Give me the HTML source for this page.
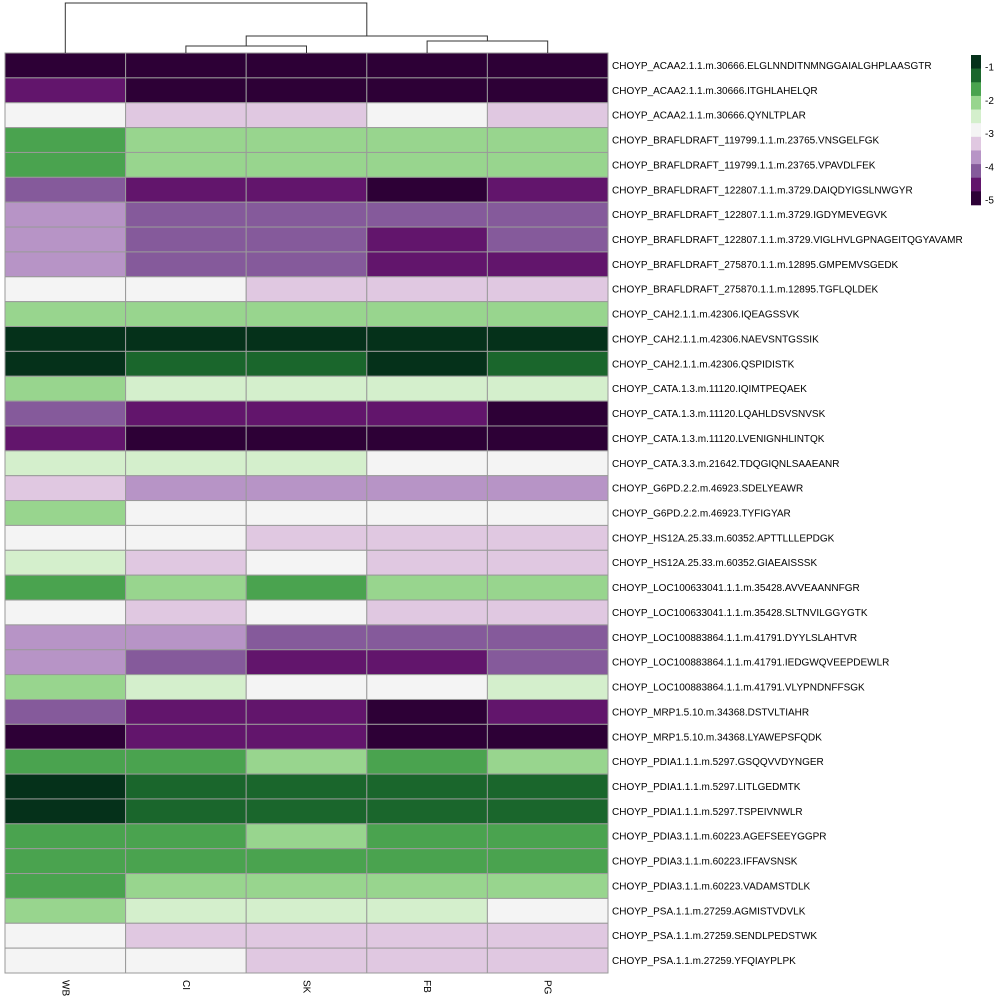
<!DOCTYPE html>
<html><head><meta charset="utf-8"><style>
body{margin:0;background:#fff;}
svg text{font-family:"Liberation Sans",sans-serif;font-size:10px;fill:#000;}
</style></head><body>
<svg id="hm" width="1000" height="1000" xmlns="http://www.w3.org/2000/svg"></svg>
<script>
const columns=["WB","CI","SK","FB","PG"];
const rows=["CHOYP_ACAA2.1.1.m.30666.ELGLNNDITNMNGGAIALGHPLAASGTR","CHOYP_ACAA2.1.1.m.30666.ITGHLAHELQR","CHOYP_ACAA2.1.1.m.30666.QYNLTPLAR","CHOYP_BRAFLDRAFT_119799.1.1.m.23765.VNSGELFGK","CHOYP_BRAFLDRAFT_119799.1.1.m.23765.VPAVDLFEK","CHOYP_BRAFLDRAFT_122807.1.1.m.3729.DAIQDYIGSLNWGYR","CHOYP_BRAFLDRAFT_122807.1.1.m.3729.IGDYMEVEGVK","CHOYP_BRAFLDRAFT_122807.1.1.m.3729.VIGLHVLGPNAGEITQGYAVAMR","CHOYP_BRAFLDRAFT_275870.1.1.m.12895.GMPEMVSGEDK","CHOYP_BRAFLDRAFT_275870.1.1.m.12895.TGFLQLDEK","CHOYP_CAH2.1.1.m.42306.IQEAGSSVK","CHOYP_CAH2.1.1.m.42306.NAEVSNTGSSIK","CHOYP_CAH2.1.1.m.42306.QSPIDISTK","CHOYP_CATA.1.3.m.11120.IQIMTPEQAEK","CHOYP_CATA.1.3.m.11120.LQAHLDSVSNVSK","CHOYP_CATA.1.3.m.11120.LVENIGNHLINTQK","CHOYP_CATA.3.3.m.21642.TDQGIQNLSAAEANR","CHOYP_G6PD.2.2.m.46923.SDELYEAWR","CHOYP_G6PD.2.2.m.46923.TYFIGYAR","CHOYP_HS12A.25.33.m.60352.APTTLLLEPDGK","CHOYP_HS12A.25.33.m.60352.GIAEAISSSK","CHOYP_LOC100633041.1.1.m.35428.AVVEAANNFGR","CHOYP_LOC100633041.1.1.m.35428.SLTNVILGGYGTK","CHOYP_LOC100883864.1.1.m.41791.DYYLSLAHTVR","CHOYP_LOC100883864.1.1.m.41791.IEDGWQVEEPDEWLR","CHOYP_LOC100883864.1.1.m.41791.VLYPNDNFFSGK","CHOYP_MRP1.5.10.m.34368.DSTVLTIAHR","CHOYP_MRP1.5.10.m.34368.LYAWEPSFQDK","CHOYP_PDIA1.1.1.m.5297.GSQQVVDYNGER","CHOYP_PDIA1.1.1.m.5297.LITLGEDMTK","CHOYP_PDIA1.1.1.m.5297.TSPEIVNWLR","CHOYP_PDIA3.1.1.m.60223.AGEFSEEYGGPR","CHOYP_PDIA3.1.1.m.60223.IFFAVSNSK","CHOYP_PDIA3.1.1.m.60223.VADAMSTDLK","CHOYP_PSA.1.1.m.27259.AGMISTVDVLK","CHOYP_PSA.1.1.m.27259.SENDLPEDSTWK","CHOYP_PSA.1.1.m.27259.YFQIAYPLPK"];
const values=[
[-4.8,-4.8,-4.8,-4.8,-4.8],[-4.4,-4.8,-4.8,-4.8,-4.8],[-2.8,-3.2,-3.2,-2.8,-3.2],
[-1.6,-2.0,-2.0,-2.0,-2.0],[-1.6,-2.0,-2.0,-2.0,-2.0],[-4.0,-4.4,-4.4,-4.8,-4.4],
[-3.6,-4.0,-4.0,-4.0,-4.0],[-3.6,-4.0,-4.0,-4.4,-4.0],[-3.6,-4.0,-4.0,-4.4,-4.4],
[-2.8,-2.8,-3.2,-3.2,-3.2],[-2.0,-2.0,-2.0,-2.0,-2.0],[-0.8,-0.8,-0.8,-0.8,-0.8],
[-0.8,-1.2,-1.2,-0.8,-1.2],[-2.0,-2.4,-2.4,-2.4,-2.4],[-4.0,-4.4,-4.4,-4.4,-4.8],
[-4.4,-4.8,-4.8,-4.8,-4.8],[-2.4,-2.4,-2.4,-2.8,-2.8],[-3.2,-3.6,-3.6,-3.6,-3.6],
[-2.0,-2.8,-2.8,-2.8,-2.8],[-2.8,-2.8,-3.2,-3.2,-3.2],[-2.4,-3.2,-2.8,-3.2,-3.2],
[-1.6,-2.0,-1.6,-2.0,-2.0],[-2.8,-3.2,-2.8,-3.2,-3.2],[-3.6,-3.6,-4.0,-4.0,-4.0],
[-3.6,-4.0,-4.4,-4.4,-4.0],[-2.0,-2.4,-2.8,-2.8,-2.4],[-4.0,-4.4,-4.4,-4.8,-4.4],
[-4.8,-4.4,-4.4,-4.8,-4.8],[-1.6,-1.6,-2.0,-1.6,-2.0],[-0.8,-1.2,-1.2,-1.2,-1.2],
[-0.8,-1.2,-1.2,-1.2,-1.2],[-1.6,-1.6,-2.0,-1.6,-1.6],[-1.6,-1.6,-1.6,-1.6,-1.6],
[-1.6,-2.0,-2.0,-2.0,-2.0],[-2.0,-2.4,-2.4,-2.4,-2.8],[-2.8,-3.2,-3.2,-3.2,-3.2],
[-2.8,-2.8,-3.2,-3.2,-3.2]];
const legendTicks=[-1,-2,-3,-4,-5];
const palette=["#05311a","#1a662c","#4aa34f","#98d58e","#d4efcc","#f4f4f4","#e0c8e1","#b794c6","#855a9b","#62156c","#2d0036"];
// dendrogram merges: [leftX(col pos), rightX, height]
const dendro=[[1,2,46],[3,4,41],[1.5,3.5,36],[0,2.5,3]];

const NS="http://www.w3.org/2000/svg";
const svg=document.getElementById("hm");
const X0=5,X1=608,Y0=53,Y1=973;
const cw=(X1-X0)/columns.length, rh=(Y1-Y0)/rows.length;
function xPos(i){return X0+cw*(i+0.5);}
function colorOf(v){let l=Math.round((-0.8-v)/0.4);l=Math.max(0,Math.min(10,l));return palette[l];}
function mk(tag,attrs){const e=document.createElementNS(NS,tag);for(const k in attrs)e.setAttribute(k,attrs[k]);svg.appendChild(e);return e;}
values.forEach((row,r)=>{row.forEach((v,c)=>{
  const e=mk("rect",{x:X0+c*cw,y:Y0+r*rh,width:cw,height:rh,fill:colorOf(v),stroke:"#9a9a9a","stroke-width":1});
  
  
});
  const t=mk("text",{x:612,y:Y0+(r+0.5)*rh+3.5});
  t.textContent=rows[r];
  
  
});
columns.forEach((c,i)=>{
  const t=mk("text",{transform:`translate(${xPos(i)-3},980) rotate(90)`});
  t.textContent=c;
  
  
});
// dendrogram
const nodeY={};
function leafY(){return Y0;}
const heights={};
dendro.forEach(([a,b,h])=>{
  const ya=heights[a]!==undefined?heights[a]:Y0;
  const yb=heights[b]!==undefined?heights[b]:Y0;
  const xa=xPos(a),xb=xPos(b);
  const p=mk("path",{d:`M${xa},${ya}V${h}H${xb}V${yb}`,fill:"none",stroke:"#333","stroke-width":1});
  
  
  heights[(a+b)/2]=h;
});
// legend
const LY0=55, bandH=150/palette.length;
palette.forEach((col,i)=>{
  const e=mk("rect",{x:971,y:LY0+i*bandH,width:10,height:bandH+0.3,fill:col});
  
  
});
legendTicks.forEach(v=>{
  const y=67+(-1-v)*33.3;
  const t=mk("text",{x:985,y:y+3.5});
  t.textContent=String(v);
  
  
});
</script>
</body></html>
